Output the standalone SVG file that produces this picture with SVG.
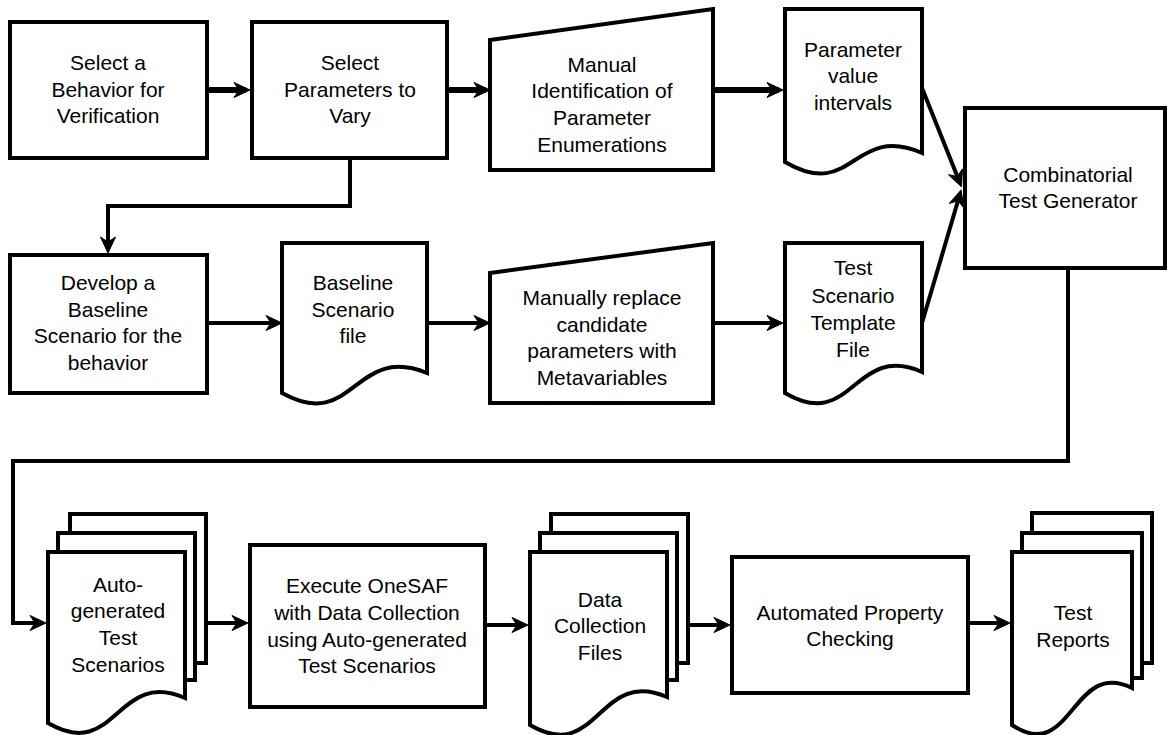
<svg xmlns="http://www.w3.org/2000/svg" width="1169" height="735" viewBox="0 0 1169 735">
<style>
.s{fill:#fff;stroke:#000;stroke-width:4;stroke-linejoin:miter}
.t{font-family:"Liberation Sans",Arial,sans-serif;font-size:21px;text-anchor:middle;fill:#000}
.c{fill:none;stroke:#000;stroke-width:4}
.c5{fill:none;stroke:#000;stroke-width:6}
</style>
<defs>
<marker id="ah" viewBox="0 0 18 18" markerUnits="userSpaceOnUse" markerWidth="18" markerHeight="18" refX="13" refY="9" orient="auto">
<path d="M1,1.5 L17,9 L1,16.5 L6,9 Z" fill="#000" stroke="#000" stroke-width="1" stroke-linejoin="round"/>
</marker>
</defs>
<rect width="1169" height="735" fill="#fff"/>
<g id="connectors">
<line class="c5" x1="207" y1="90" x2="246" y2="90" marker-end="url(#ah)"/>
<line class="c5" x1="447" y1="90" x2="486" y2="90" marker-end="url(#ah)"/>
<line class="c5" x1="713" y1="90" x2="779" y2="90" marker-end="url(#ah)"/>
<line class="c" x1="922" y1="88" x2="960" y2="183" marker-end="url(#ah)"/>
<line class="c" x1="922" y1="323" x2="960" y2="194" marker-end="url(#ah)"/>
<polyline class="c" points="350,158 350,206 108,206 108,249" marker-end="url(#ah)"/>
<line class="c" x1="207" y1="323" x2="278" y2="323" marker-end="url(#ah)"/>
<line class="c" x1="427" y1="323" x2="486" y2="323" marker-end="url(#ah)"/>
<line class="c" x1="713" y1="323" x2="779" y2="323" marker-end="url(#ah)"/>
<polyline class="c" points="1068,268 1068,461 13,461 13,623 42,623" marker-end="url(#ah)"/>
<line class="c" x1="185" y1="623" x2="244" y2="623" marker-end="url(#ah)"/>
<line class="c" x1="485" y1="625" x2="524" y2="625" marker-end="url(#ah)"/>
<line class="c" x1="667" y1="625" x2="726" y2="625" marker-end="url(#ah)"/>
<line class="c" x1="968" y1="623" x2="1006" y2="623" marker-end="url(#ah)"/>
</g>
<g id="n1">
<rect class="s" x="10" y="22" width="197" height="136"/>
<text class="t" x="108" y="70">Select a</text>
<text class="t" x="108" y="97">Behavior for</text>
<text class="t" x="108" y="123">Verification</text>
</g>
<g id="n2">
<rect class="s" x="252" y="22" width="195" height="136"/>
<text class="t" x="350" y="70">Select</text>
<text class="t" x="350" y="97">Parameters to</text>
<text class="t" x="350" y="123">Vary</text>
</g>
<g id="n3">
<path class="s" d="M490,40 L713,9 L713,170 L490,170 Z"/>
<text class="t" x="602" y="72">Manual</text>
<text class="t" x="602" y="98">Identification of</text>
<text class="t" x="602" y="125">Parameter</text>
<text class="t" x="602" y="152">Enumerations</text>
</g>
<g id="n4">
<path class="s" d="M785,9 H922 V153 C853,123 853,202 785,162 Z"/>
<text class="t" x="853" y="57">Parameter</text>
<text class="t" x="853" y="83">value</text>
<text class="t" x="853" y="110">intervals</text>
</g>
<g id="n5">
<rect class="s" x="965" y="108" width="200" height="160"/>
<text class="t" x="1068" y="182">Combinatorial</text>
<text class="t" x="1068" y="208">Test Generator</text>
</g>
<g id="n6">
<rect class="s" x="10" y="255" width="197" height="138"/>
<text class="t" x="108" y="290">Develop a</text>
<text class="t" x="108" y="317">Baseline</text>
<text class="t" x="108" y="343">Scenario for the</text>
<text class="t" x="108" y="370">behavior</text>
</g>
<g id="n7">
<path class="s" d="M282,243 H427 V373 C354,343 354,433 282,393 Z"/>
<text class="t" x="353" y="290">Baseline</text>
<text class="t" x="353" y="317">Scenario</text>
<text class="t" x="353" y="343">file</text>
</g>
<g id="n8">
<path class="s" d="M490,273 L713,243 L713,403 L490,403 Z"/>
<text class="t" x="602" y="305">Manually replace</text>
<text class="t" x="602" y="332">candidate</text>
<text class="t" x="602" y="358">parameters with</text>
<text class="t" x="602" y="385">Metavariables</text>
</g>
<g id="n9">
<path class="s" d="M785,243 H922 V372 C853,342 853,433 785,393 Z"/>
<text class="t" x="853" y="275">Test</text>
<text class="t" x="853" y="303">Scenario</text>
<text class="t" x="853" y="330">Template</text>
<text class="t" x="853" y="357">File</text>
</g>
<g id="n10">
<rect class="s" x="70" y="514" width="136" height="149"/>
<rect class="s" x="58" y="533" width="137" height="147"/>
<path class="s" d="M48,552 H185 V698 C116,668 116,763 48,723 Z"/>
<text class="t" x="118" y="592">Auto-</text>
<text class="t" x="118" y="618">generated</text>
<text class="t" x="118" y="645">Test</text>
<text class="t" x="118" y="672">Scenarios</text>
</g>
<g id="n11">
<rect class="s" x="250" y="545" width="235" height="162"/>
<text class="t" x="367" y="593">Execute OneSAF</text>
<text class="t" x="367" y="620">with Data Collection</text>
<text class="t" x="367" y="647">using Auto-generated</text>
<text class="t" x="367" y="673">Test Scenarios</text>
</g>
<g id="n12">
<rect class="s" x="551" y="514" width="137" height="149"/>
<rect class="s" x="540" y="533" width="137" height="147"/>
<path class="s" d="M530,552 H667 V697 C598,667 598,765 530,725 Z"/>
<text class="t" x="600" y="607">Data</text>
<text class="t" x="600" y="633">Collection</text>
<text class="t" x="600" y="660">Files</text>
</g>
<g id="n13">
<rect class="s" x="732" y="557" width="236" height="136"/>
<text class="t" x="850" y="620">Automated Property</text>
<text class="t" x="850" y="646">Checking</text>
</g>
<g id="n14">
<rect class="s" x="1032" y="513" width="120" height="150"/>
<rect class="s" x="1022" y="533" width="120" height="145"/>
<path class="s" d="M1012,552 H1132 V688 C1072,658 1072,765 1012,725 Z"/>
<text class="t" x="1073" y="620">Test</text>
<text class="t" x="1073" y="647">Reports</text>
</g>
</svg>
